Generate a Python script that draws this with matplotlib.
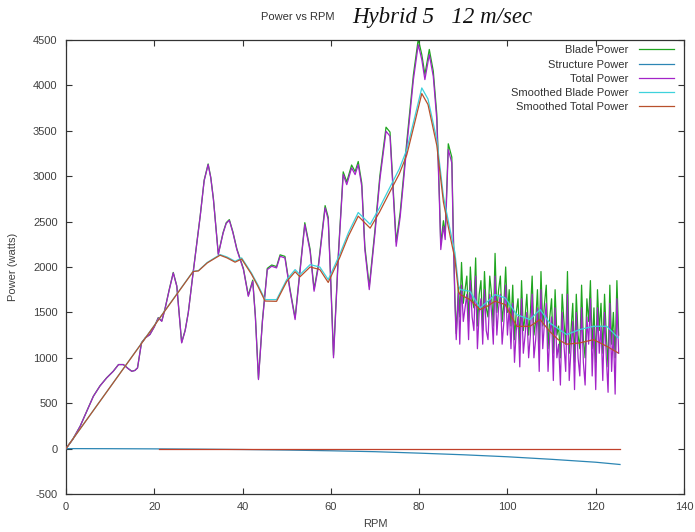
import numpy as np
import matplotlib
matplotlib.use("Agg")
import matplotlib.pyplot as plt

# ---------------- data ----------------
rpm_pre = [0, 1.5, 3.2, 4.7, 6.2, 7.7, 9.2, 10.7, 11.9, 13.0,
           14.1, 14.9, 15.6, 16.2, 17.1, 18.0, 19.0, 20.0, 20.9, 21.7,
           22.4, 23.4, 24.3, 25.1, 25.7, 26.2, 27.0, 27.7, 28.8, 30.4,
           31.3, 32.2, 32.8, 33.4, 34.5, 35.6, 36.3, 37.0, 37.8, 38.7,
           40.2, 41.3, 42.3, 42.9, 43.6, 44.5, 45.6, 46.6, 47.7, 48.5,
           49.6, 50.7, 51.9, 53.0, 54.1, 55.3, 56.2, 57.2, 58.7, 59.4,
           60.0, 60.6, 61.7, 62.8, 63.6, 64.7, 65.5, 66.2, 67.0, 67.7,
           68.7, 70.0, 71.1, 72.5, 73.4, 74.0, 74.8, 75.7, 77.2, 78.7,
           79.8, 80.6, 81.3, 82.3, 83.2, 84.0, 84.6, 84.9, 85.5, 85.9,
           86.6, 87.4, 87.7, 88.1, 88.4, 88.9]
rpm_noisy = list(np.round(np.arange(89.2, 125.3, 0.4), 1))
rpm = rpm_pre + rpm_noisy

blade_power = [0, 100, 246, 411, 577, 691, 779, 852, 926, 926,
               881, 852, 861, 889, 1166, 1222, 1257, 1342, 1442, 1405,
               1535, 1755, 1940, 1792, 1455, 1169, 1305, 1499, 1941, 2564,
               2957, 3135, 2987, 2749, 2144, 2382, 2488, 2522, 2389, 2201,
               1981, 1688, 1855, 1462, 772, 1413, 1985, 2022, 2005, 2134,
               2117, 1769, 1440, 1970, 2488, 2195, 1756, 2032, 2676, 2548,
               1826, 1027, 2147, 3048, 2938, 3123, 3051, 3162, 2924, 2228,
               1788, 2414, 3004, 3540, 3486, 2973, 2276, 2600, 3382, 4118,
               4510, 4340, 4120, 4396, 4158, 3682, 2765, 2252, 2510, 2364,
               3357, 3210, 2477, 1670, 1266, 1782,
               # noisy part 89.2 .. 125.2
               1450, 2050, 1600, 1750, 1900, 1400, 2000, 1650, 1550, 2100,
               1350, 1700, 1850, 1300, 1950, 1550, 1450, 1900, 1700, 1350,
               2150, 1500, 1750, 1900, 1400, 1600, 2000, 1500, 1750, 1350,
               1800, 1200, 1500, 1650, 1150, 1850, 1300, 1450, 1700, 1250,
               1500, 1900, 1250, 1400, 1750, 1150, 1950, 1350, 1600, 1800,
               1100, 1450, 1650, 1050, 1750, 1250, 1350, 1000, 1700, 1400,
               1150, 1950, 1050, 1300, 1600, 950, 1700, 1250, 1100, 1800,
               1200, 1000, 1650, 1400, 1850, 1100, 1550, 950, 1750, 1300,
               1600, 1050, 1700, 1250, 900, 1800, 1150, 1500, 1000, 1850,
               1250]

total_power = [0, 100, 246, 410, 576, 690, 778, 851, 925, 925,
               880, 851, 860, 888, 1164, 1220, 1255, 1340, 1439, 1402,
               1531, 1750, 1935, 1787, 1450, 1164, 1300, 1494, 1935, 2558,
               2950, 3128, 2980, 2742, 2137, 2375, 2480, 2514, 2380, 2192,
               1971, 1677, 1843, 1450, 760, 1400, 1971, 2008, 1990, 2118,
               2100, 1751, 1421, 1950, 2467, 2173, 1733, 2008, 2651, 2522,
               1800, 1000, 2118, 3018, 2907, 3091, 3018, 3128, 2889, 2192,
               1751, 2375, 2963, 3495, 3440, 2926, 2228, 2550, 3330, 4064,
               4449, 4284, 4064, 4339, 4100, 3623, 2706, 2192, 2448, 2302,
               3293, 3146, 2412, 1604, 1200, 1715,
               # noisy part 89.2 .. 125.2
               1150, 1800, 1400, 1550, 1700, 1200, 1850, 1450, 1300, 1900,
               1100, 1500, 1650, 1150, 1750, 1300, 1200, 1700, 1500, 1150,
               1900, 1250, 1550, 1700, 1150, 1400, 1800, 1250, 1550, 1100,
               1600, 950, 1300, 1450, 900, 1650, 1050, 1250, 1500, 1000,
               1250, 1700, 1000, 1200, 1550, 850, 1750, 1100, 1400, 1600,
               850, 1250, 1450, 750, 1550, 1000, 1150, 700, 1500, 1150,
               850, 1700, 750, 1100, 1400, 650, 1500, 1000, 800, 1550,
               950, 700, 1450, 1150, 1650, 800, 1350, 650, 1550, 1050,
               1350, 750, 1500, 1000, 620, 1600, 850, 1300, 600, 1650,
               1050]

structure_rpm = [0, 10, 20, 30, 40, 50, 60, 70, 80, 90, 100, 110, 120, 125.5]
structure_power = [0, -1, -3, -6, -10, -16, -24, -34, -50, -68, -90, -118, -150, -175]

smooth_rpm = [0, 28.8, 30, 32, 34.9, 36.5, 38.3, 39.8, 42, 43.5,
              45.1, 47.7, 50, 51.9, 53, 55.3, 57.5, 59.4, 62, 64,
              66.2, 68.9, 71, 73.4, 75.5, 77.2, 79, 80.6, 82, 84,
              85.5, 87, 88.1, 88.9, 89.3, 91.5, 93.8, 95.5, 97.2, 99.5,
              102.1, 105.1, 107.4, 109.6, 111.5, 113.4, 116.4, 119.5, 122.5, 125.1]
smooth_blade = [0, 1953, 1960, 2050, 2137, 2110, 2063, 2100, 1935, 1800,
                1641, 1641, 1861, 1971, 1916, 2026, 2000, 1861, 2137, 2380,
                2600, 2470, 2650, 2880, 3080, 3293, 3650, 3972, 3850, 3403,
                2779, 2412, 2159, 1800, 1751, 1733, 1550, 1620, 1696, 1660,
                1476, 1421, 1531, 1384, 1320, 1256, 1311, 1347, 1347, 1219]
smooth_total = [0, 1950, 1957, 2045, 2130, 2100, 2053, 2088, 1922, 1785,
                1625, 1622, 1840, 1948, 1892, 2000, 1972, 1830, 2103, 2343,
                2560, 2428, 2603, 2830, 3025, 3235, 3590, 3910, 3790, 3340,
                2715, 2345, 2090, 1730, 1696, 1641, 1531, 1570, 1623, 1586,
                1347, 1347, 1421, 1290, 1200, 1150, 1164, 1200, 1127, 1053]

zero_rpm = [21, 125.5]
zero_vals = [0, 0]

x_ticks = list(range(0, 141, 20))
y_ticks = list(range(-500, 4501, 500))

# ---------------- plot ----------------
plt.rcParams['font.family'] = ['Liberation Sans', 'DejaVu Sans']
plt.rcParams['axes.unicode_minus'] = False
fig = plt.figure(figsize=(6.95, 5.32), dpi=100)
ax = fig.add_axes([66/695, 38/532, 618/695, 454/532])

lw = 0.9
ax.plot(rpm, blade_power, color='#1fa51f', lw=lw, label='Blade Power', zorder=2)
ax.plot(structure_rpm, structure_power, color='#2c86b4', lw=lw, label='Structure Power', zorder=3)
ax.plot(rpm, total_power, color='#a324c8', lw=lw, label='Total Power', zorder=4)
ax.plot(smooth_rpm, smooth_blade, color='#3ed2dc', lw=lw, label='Smoothed Blade Power', zorder=5)
ax.plot(smooth_rpm, smooth_total, color='#b8502c', lw=lw, label='Smoothed Total Power', zorder=6)
ax.plot(zero_rpm, zero_vals, color='#c0402a', lw=lw, zorder=3)

ax.set_xlim(0, 140)
ax.set_ylim(-500, 4500)
ax.set_xticks(x_ticks)
ax.set_yticks(y_ticks)
ax.tick_params(direction='in', length=4, width=0.8, color='#333333',
               labelsize=8, labelcolor='#404040', top=True, right=True)
ax.tick_params(axis='y', pad=6)
ax.tick_params(axis='x', pad=6)
for s in ax.spines.values():
    s.set_color('#333333')
    s.set_linewidth(0.9)

ax.set_xlabel('RPM', fontsize=8, color='#404040', labelpad=5)
ax.set_ylabel('Power (watts)', fontsize=8, color='#404040', labelpad=11)

fig.text(298/695, 1 - 17/532, 'Power vs RPM', fontsize=8, color='#333333',
         ha='center', va='center')
fig.text(352/695, 1 - 17/532, 'Hybrid 5   12 m/sec', fontsize=16.5, color='#111111',
         ha='left', va='center', family=['Liberation Serif', 'DejaVu Serif'], style='italic')

leg = ax.legend(loc='upper right', bbox_to_anchor=(0.995, 1.003), frameon=False,
                markerfirst=False, fontsize=8, handlelength=3.2, handletextpad=0.9,
                labelspacing=0.38, borderaxespad=0.2)
for t in leg.get_texts():
    t.set_color('#333333')

fig.savefig('out.png', dpi=100)
